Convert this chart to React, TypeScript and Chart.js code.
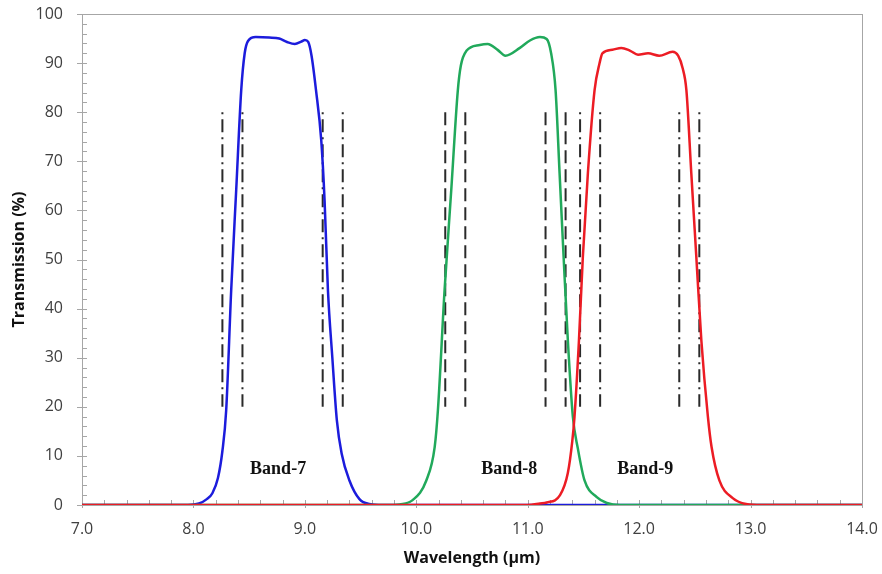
import React, { useEffect, useRef } from 'react';
import { Chart, registerables } from 'chart.js';

Chart.register(...registerables);

// Band-7 (blue)
const band7X = [7.0, 7.95, 8.05, 8.12, 8.17, 8.22, 8.26, 8.294, 8.339, 8.384, 8.429, 8.46, 8.49, 8.56, 8.68, 8.77, 8.84, 8.91, 8.97, 9.0, 9.03, 9.06, 9.1, 9.147, 9.177, 9.207, 9.246, 9.287, 9.33, 9.4, 9.49, 9.58, 9.7, 14.0];
const band7Y = [0, 0, 0.3, 1.2, 2.4, 5.5, 11, 19.3, 43.8, 64.2, 84.5, 92, 94.5, 95.3, 95.2, 95.0, 94.3, 93.9, 94.4, 94.7, 94.3, 91.5, 84.5, 74.3, 62, 43.8, 30.2, 17.3, 10.5, 5, 1.2, 0.2, 0, 0];

// Band-8 (green)
const band8X = [7.0, 9.8, 9.85, 9.967, 10.09, 10.165, 10.194, 10.254, 10.314, 10.373, 10.4, 10.45, 10.57, 10.64, 10.73, 10.8, 10.93, 11.02, 11.11, 11.17, 11.21, 11.25, 11.286, 11.322, 11.36, 11.405, 11.45, 11.51, 11.62, 11.71, 11.83, 14.0];
const band8Y = [0, 0, 0.1, 1, 5, 11.8, 19.3, 43.8, 64.2, 84.5, 89.5, 92.5, 93.7, 93.9, 92.7, 91.5, 93.1, 94.6, 95.3, 94.9, 92, 84.5, 67.6, 50.6, 33.6, 18, 11.5, 5, 1.6, 0.4, 0, 0];

// Band-9 (red)
const band9X = [7.0, 11.0, 11.11, 11.17, 11.29, 11.36, 11.4, 11.42, 11.46, 11.495, 11.54, 11.6, 11.645, 11.67, 11.76, 11.84, 11.92, 11.99, 12.08, 12.18, 12.3, 12.35, 12.39, 12.424, 12.468, 12.513, 12.558, 12.617, 12.65, 12.72, 12.84, 12.96, 13.1, 14.0];
const band9Y = [0, 0, 0.3, 0.5, 2.0, 6.5, 13, 18, 33.6, 50.6, 67.6, 84.5, 90, 92, 92.7, 93.1, 92.5, 91.7, 92, 91.5, 92.3, 91.5, 89, 84.5, 67.6, 50.6, 33.6, 18, 11.8, 5, 1.4, 0.2, 0, 0];

// Vertical marker lines
const dashDotLines = [8.26, 8.44, 9.16, 9.34, 11.47, 11.65, 12.36, 12.54];
const dashedLines = [10.26, 10.44, 11.16, 11.34];
const markerRange = [80, 20];

// Band annotations
const bandLabels = ['Band-7', 'Band-8', 'Band-9'];
const bandLabelX = [8.76, 10.835, 12.055];
const bandLabelY = [7.3, 7.3, 7.3];

// Axes
const xTicks = [7, 8, 9, 10, 11, 12, 13, 14];
const xTickLabels = ['7.0', '8.0', '9.0', '10.0', '11.0', '12.0', '13.0', '14.0'];
const yTicks = [0, 10, 20, 30, 40, 50, 60, 70, 80, 90, 100];
const yTickLabels = ['0', '10', '20', '30', '40', '50', '60', '70', '80', '90', '100'];
const xMinorStep = 0.2;
const yMinorStep = 2;

const toPoints = (xs: number[], ys: number[]) => xs.map((x, i) => ({ x, y: ys[i] }));

const decorPlugin = {
  id: 'decor',
  beforeDatasetsDraw(chart: any) {
    const { ctx, chartArea: ca, scales } = chart;
    const x = scales.x;
    const y = scales.y;
    ctx.save();
    ctx.strokeStyle = '#a6a6a6';
    ctx.lineWidth = 1;
    ctx.strokeRect(Math.round(ca.left) + 0.5, Math.round(ca.top) + 0.5, Math.round(ca.right - ca.left), Math.round(ca.bottom - ca.top));
    ctx.beginPath();
    const nx = Math.round((x.max - x.min) / xMinorStep);
    for (let i = 0; i <= nx; i++) {
      const v = x.min + i * xMinorStep;
      const px = Math.round(x.getPixelForValue(v)) + 0.5;
      const major = Math.abs(v - Math.round(v)) < 1e-6;
      ctx.moveTo(px, ca.bottom - 5);
      ctx.lineTo(px, ca.bottom + (major ? 3 : 0));
    }
    const ny = Math.round((y.max - y.min) / yMinorStep);
    for (let i = 0; i <= ny; i++) {
      const v = y.min + i * yMinorStep;
      const py = Math.round(y.getPixelForValue(v)) + 0.5;
      const major = v % 10 === 0;
      ctx.moveTo(ca.left - (major ? 5 : 0), py);
      ctx.lineTo(ca.left + 5, py);
    }
    ctx.stroke();
    ctx.restore();
  },
  afterDatasetsDraw(chart: any) {
    const { ctx, scales } = chart;
    ctx.save();
    ctx.fillStyle = '#111';
    ctx.font = 'bold 18px "Liberation Serif", "Times New Roman", serif';
    ctx.textAlign = 'center';
    ctx.textBaseline = 'middle';
    bandLabels.forEach((t, i) => {
      ctx.fillText(t, scales.x.getPixelForValue(bandLabelX[i]), scales.y.getPixelForValue(bandLabelY[i]));
    });
    ctx.restore();
  },
};

export default function App() {
  const ref = useRef<HTMLCanvasElement | null>(null);
  useEffect(() => {
    if (!ref.current) return;
    const markerSets: any[] = [];
    dashDotLines.forEach((v) => {
      markerSets.push({
        data: [{ x: v, y: markerRange[0] }, { x: v, y: markerRange[1] }],
        borderColor: '#2a2a2a',
        borderWidth: 2,
        borderDash: [2, 5, 13, 5],
        pointRadius: 0,
        order: 5,
      });
    });
    dashedLines.forEach((v) => {
      markerSets.push({
        data: [{ x: v, y: markerRange[0] }, { x: v, y: markerRange[1] }],
        borderColor: '#2a2a2a',
        borderWidth: 2,
        borderDash: [13, 6],
        pointRadius: 0,
        order: 5,
      });
    });
    const chart = new Chart(ref.current, {
      type: 'line',
      data: {
        datasets: [
          { label: 'Band-9', data: toPoints(band9X, band9Y), borderColor: '#ec1c24', borderWidth: 2.5, pointRadius: 0, cubicInterpolationMode: 'monotone', order: 1 },
          { label: 'Band-8', data: toPoints(band8X, band8Y), borderColor: '#21a95b', borderWidth: 2.5, pointRadius: 0, cubicInterpolationMode: 'monotone', order: 2 },
          { label: 'Band-7', data: toPoints(band7X, band7Y), borderColor: '#1c1cdc', borderWidth: 2.5, pointRadius: 0, cubicInterpolationMode: 'monotone', order: 3 },
          ...markerSets,
        ],
      } as any,
      options: {
        animation: false,
        responsive: true,
        maintainAspectRatio: false,
        layout: { padding: { top: 14, right: 20, bottom: 0, left: 0 } },
        plugins: { legend: { display: false }, tooltip: { enabled: false } },
        scales: {
          x: {
            type: 'linear',
            min: 7,
            max: 14,
            afterBuildTicks: (s: any) => { s.ticks = xTicks.map((v) => ({ value: v })); },
            afterFit: (s: any) => { s.height = 69; s.paddingLeft = 0; s.paddingRight = 0; },
            grid: { display: false, drawTicks: false },
            border: { display: false },
            ticks: {
              padding: 15,
              color: '#404040',
              font: { family: '"Open Sans", sans-serif', size: 16 },
              callback: (_v: any, i: number) => xTickLabels[i],
              maxRotation: 0,
            },
            title: {
              display: true,
              text: 'Wavelength (\u03bcm)',
              color: '#111',
              font: { family: '"Open Sans", sans-serif', size: 16, weight: 'bold' },
              padding: { top: 0, bottom: 6 },
            },
          },
          y: {
            type: 'linear',
            min: 0,
            max: 100,
            afterBuildTicks: (s: any) => { s.ticks = yTicks.map((v) => ({ value: v })); },
            afterFit: (s: any) => { s.width = 82; s.paddingTop = 0; s.paddingBottom = 0; },
            grid: { display: false, drawTicks: false },
            border: { display: false },
            ticks: {
              padding: 19,
              color: '#404040',
              font: { family: '"Open Sans", sans-serif', size: 16 },
              callback: (_v: any, i: number) => yTickLabels[i],
            },
            title: {
              display: true,
              text: 'Transmission (%)',
              color: '#111',
              font: { family: '"Open Sans", sans-serif', size: 16, weight: 'bold' },
              padding: { top: 10, bottom: 0 },
            },
          },
        },
      } as any,
      plugins: [decorPlugin],
    });
    return () => chart.destroy();
  }, []);
  return (
    <div style={{ position: 'absolute', left: 0, top: 0, width: 882, height: 574, background: '#fff' }}>
      <canvas ref={ref} />
    </div>
  );
}
